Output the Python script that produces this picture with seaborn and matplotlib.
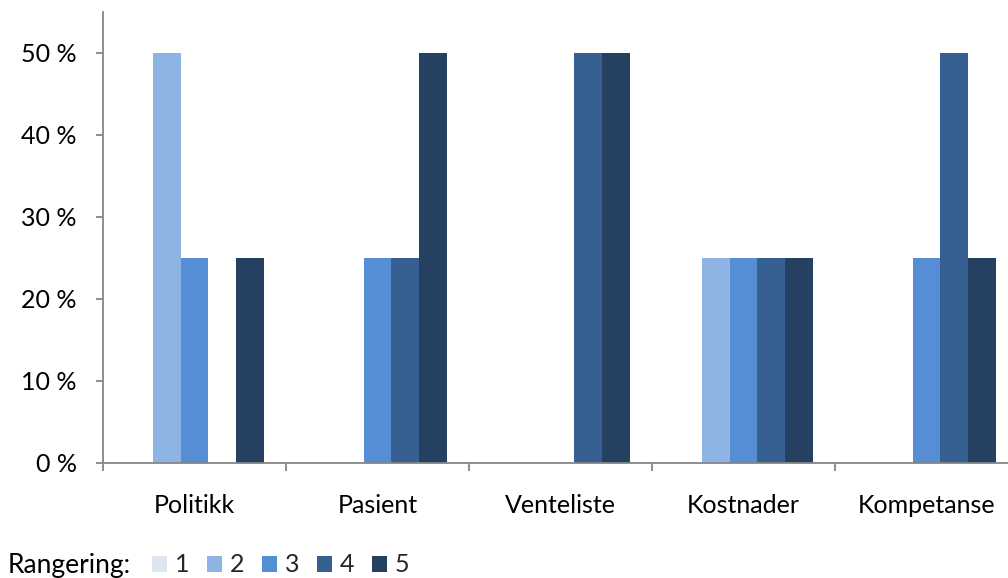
import matplotlib
matplotlib.use("Agg")
import matplotlib.pyplot as plt
from matplotlib.patches import Patch
from matplotlib.ticker import FixedLocator, FuncFormatter
import pandas as pd
import seaborn as sns

categories = ["Politikk", "Pasient", "Venteliste", "Kostnader", "Kompetanse"]
ranks = ["1", "2", "3", "4", "5"]
# share of answers per rank (percent) for each category
rank_1 = [0, 0, 0, 0, 0]
rank_2 = [50, 0, 0, 25, 0]
rank_3 = [25, 25, 0, 25, 25]
rank_4 = [0, 25, 50, 25, 50]
rank_5 = [25, 50, 50, 25, 25]
y_ticks = [0, 10, 20, 30, 40, 50]

colors = ["#DCE6F2", "#8EB4E3", "#558ED5", "#376092", "#254061"]

rows = []
for rank, vals in zip(ranks, [rank_1, rank_2, rank_3, rank_4, rank_5]):
    for cat, v in zip(categories, vals):
        rows.append({"Kategori": cat, "Rangering": rank, "Andel": v})
df = pd.DataFrame(rows)

sns.set_theme(style="white")
plt.rcParams["font.family"] = ["Lato", "DejaVu Sans"]

W, H = 1008, 578
FS = 18
fig = plt.figure(figsize=(W / 100, H / 100), dpi=100)
# plot area: left edge at x=103px, 0 % at y=463px, category width 183px
left, bottom, top = 103, 463, 12
cat_w = 183
ax = fig.add_axes([left / W, (H - bottom) / H, 5 * cat_w / W, (bottom - top) / H])

sns.barplot(data=df, x="Kategori", y="Andel", hue="Rangering",
            hue_order=ranks, order=categories, palette=colors,
            saturation=1, width=0.765, gap=0, linewidth=0, legend=False,
            ax=ax, errorbar=None)

ax.set_xlim(-0.5, 4.5)
ax.set_ylim(0, 55)
ax.set_xlabel("")
ax.set_ylabel("")

axis_color = "#868686"
for s in ["top", "right"]:
    ax.spines[s].set_visible(False)
for s in ["left", "bottom"]:
    ax.spines[s].set_color(axis_color)
    ax.spines[s].set_linewidth(1.3)

ax.yaxis.set_major_locator(FixedLocator(y_ticks))
ax.yaxis.set_major_formatter(FuncFormatter(lambda v, p: f"{int(v)} %"))
ax.tick_params(axis="y", which="major", direction="out", length=5,
               width=1.3, color=axis_color, labelsize=FS, pad=14,
               labelcolor="black", left=True)

ax.set_xticks(range(len(categories)))
ax.set_xticklabels(categories)
ax.xaxis.set_minor_locator(FixedLocator([i - 0.5 for i in range(len(categories) + 1)]))
ax.tick_params(axis="x", which="major", length=0, labelsize=FS, pad=22,
               labelcolor="black")
ax.tick_params(axis="x", which="minor", direction="out", length=6,
               width=1.3, color=axis_color, bottom=True)

fig.text(8 / W, 1 - 565 / H, "Rangering:", fontsize=FS + 1, va="center",
         ha="left", color="black")
handles = [Patch(facecolor=c, edgecolor="none", label=r) for c, r in zip(colors, ranks)]
fig.legend(handles=handles, loc="center left",
           bbox_to_anchor=(152 / W, 1 - 565 / H), ncol=5, frameon=False,
           fontsize=FS, handlelength=0.6, handleheight=0.6,
           handletextpad=0.3, columnspacing=0.72, borderaxespad=0,
           borderpad=0)

fig.savefig("out.png", dpi=100)
